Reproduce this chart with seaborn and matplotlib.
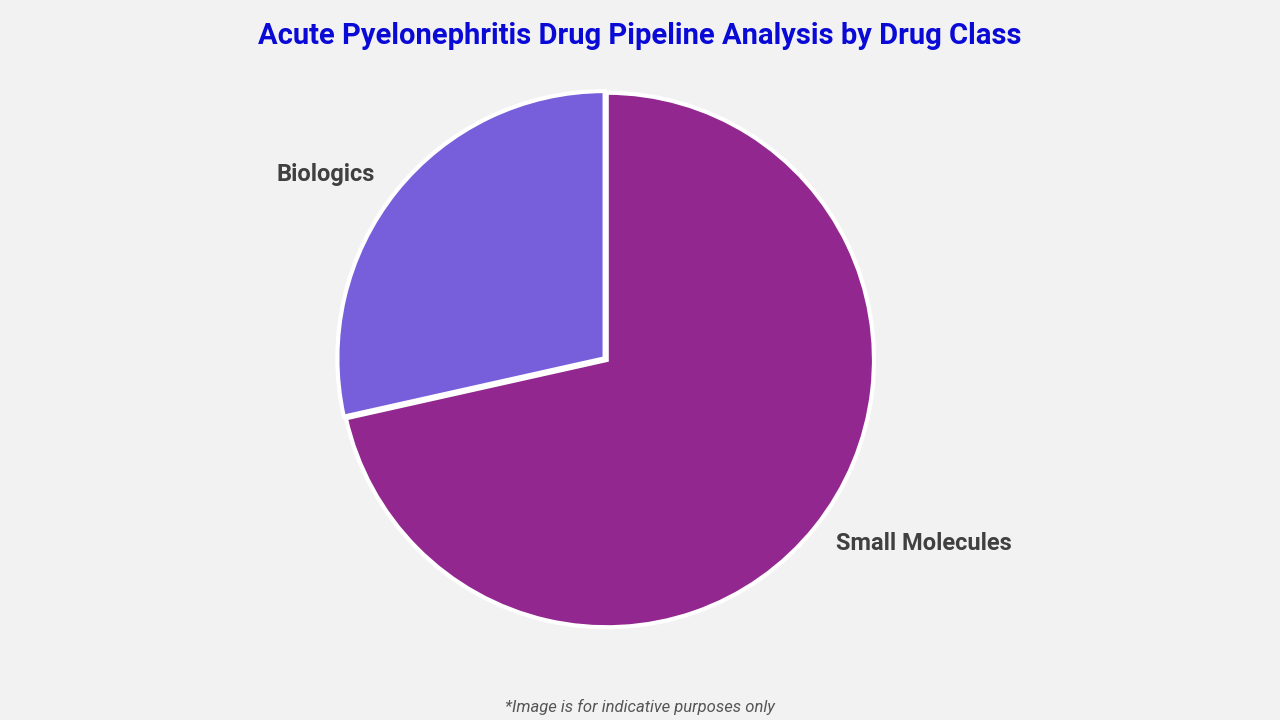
import matplotlib.pyplot as plt
import seaborn as sns

labels = ['Small Molecules', 'Biologics']
shares = [71.5, 28.5]
colors = ['#92278f', '#775fdb']

sns.set_theme(style='white')
plt.rcParams['font.family'] = ['Roboto', 'DejaVu Sans']

fig = plt.figure(figsize=(12.8, 7.2), dpi=100, facecolor='#f2f2f2')
ax = fig.add_axes([-0.026, 0.036, 1.0, 0.928])
ax.set_facecolor('#f2f2f2')

wedges, texts = ax.pie(shares, labels=labels, colors=colors, startangle=90,
                       counterclock=False, explode=[0, 0.01], labeldistance=1.1,
                       wedgeprops=dict(edgecolor='white', linewidth=3),
                       textprops=dict(fontsize=17, fontweight='bold', color='#404040'))
ax.set_aspect('equal')

fig.text(0.5, 0.95, 'Acute Pyelonephritis Drug Pipeline Analysis by Drug Class',
         ha='center', va='center', fontsize=21, fontweight='bold', color='#0a0ad6')
fig.text(0.5, 0.018, '*Image is for indicative purposes only', ha='center',
         va='center', fontsize=12, style='italic', color='#555555')

fig.savefig('out.png', facecolor=fig.get_facecolor())
